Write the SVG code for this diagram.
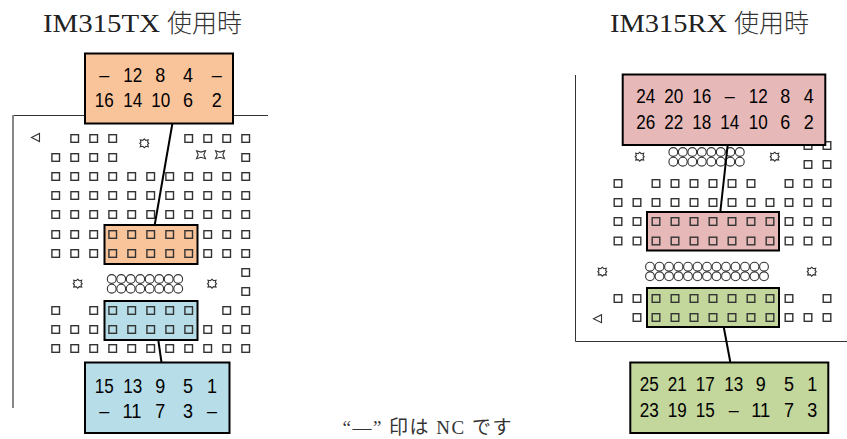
<svg xmlns="http://www.w3.org/2000/svg" width="847" height="439" viewBox="0 0 847 439">
<style>
text{font-family:"Liberation Sans","Noto Sans CJK JP",sans-serif;fill:#000}
.t{font-size:26px;font-family:"Liberation Serif","Noto Sans CJK JP",serif;fill:#222}
.j{font-size:25px;font-family:"Noto Sans CJK JP",sans-serif;font-weight:300;fill:#333}
.n{font-size:20px;text-anchor:middle}
.note{font-size:19px;font-family:"Liberation Serif","Noto Sans CJK JP",serif;fill:#333}
.b{stroke:#000;stroke-width:2}
.o{fill:#FAC49A}.c{fill:#B7DDE8}.p{fill:#E6B9B8}.g{fill:#C3D69B}
.l{stroke:#000;stroke-width:2;fill:none}
.f{stroke:#333;stroke-width:1;fill:none}
.s{fill:#fff;stroke:#333;stroke-width:1.4}
.sn{fill:none;stroke:#333;stroke-width:1.4}
.m{fill:#fff;stroke:#333;stroke-width:1.1}
</style>
<defs>
<rect id="q" x="-3.800" y="-3.800" width="7.600" height="7.600"/>
<circle id="h" r="4.400"/>
<polygon id="st" points="0,-4.500 1.500,-3 4,-3.400 3.300,-1.200 4.500,0 3.300,1.200 4,3.400 1.500,3 0,4.500 -1.500,3 -4,3.400 -3.300,1.200 -4.500,0 -3.300,-1.200 -4,-3.400 -1.500,-3"/>
<polygon id="xs" points="-4.500,-4 0,-2.600 4.500,-4 2.800,0 4.500,4 0,2.600 -4.500,4 -2.800,0"/>
<polygon id="tr" points="-4.500,0 3.500,-4 3.500,4"/>
</defs>
<g id="frames">
<path d="M268 115.500H13.500V408" class="f"/>
<path d="M13 115V408" stroke="#888" stroke-width="2" fill="none"/>
<path d="M575.500 75V341.500H847" class="f"/>
</g>
<g id="pads-left">
<g class="s">
<use href="#q" x="74.700" y="138.500"/><use href="#q" x="93.700" y="138.500"/><use href="#q" x="112.700" y="138.500"/><use href="#q" x="188.700" y="138.500"/><use href="#q" x="207.700" y="138.500"/><use href="#q" x="226.700" y="138.500"/><use href="#q" x="245.700" y="138.500"/>
<use href="#q" x="55.700" y="157.500"/><use href="#q" x="74.700" y="157.500"/><use href="#q" x="93.700" y="157.500"/><use href="#q" x="112.700" y="157.500"/><use href="#q" x="245.700" y="157.500"/>
<use href="#q" x="55.700" y="176.500"/><use href="#q" x="74.700" y="176.500"/><use href="#q" x="93.700" y="176.500"/><use href="#q" x="112.700" y="176.500"/><use href="#q" x="131.700" y="176.500"/><use href="#q" x="150.700" y="176.500"/><use href="#q" x="169.700" y="176.500"/><use href="#q" x="188.700" y="176.500"/><use href="#q" x="207.700" y="176.500"/><use href="#q" x="226.700" y="176.500"/><use href="#q" x="245.700" y="176.500"/>
<use href="#q" x="55.700" y="195.500"/><use href="#q" x="74.700" y="195.500"/><use href="#q" x="93.700" y="195.500"/><use href="#q" x="112.700" y="195.500"/><use href="#q" x="131.700" y="195.500"/><use href="#q" x="150.700" y="195.500"/><use href="#q" x="169.700" y="195.500"/><use href="#q" x="188.700" y="195.500"/><use href="#q" x="207.700" y="195.500"/><use href="#q" x="226.700" y="195.500"/><use href="#q" x="245.700" y="195.500"/>
<use href="#q" x="55.700" y="214.500"/><use href="#q" x="74.700" y="214.500"/><use href="#q" x="93.700" y="214.500"/><use href="#q" x="112.700" y="214.500"/><use href="#q" x="131.700" y="214.500"/><use href="#q" x="150.700" y="214.500"/><use href="#q" x="169.700" y="214.500"/><use href="#q" x="188.700" y="214.500"/><use href="#q" x="207.700" y="214.500"/><use href="#q" x="226.700" y="214.500"/><use href="#q" x="245.700" y="214.500"/>
<use href="#q" x="55.700" y="234.500"/><use href="#q" x="74.700" y="234.500"/><use href="#q" x="93.700" y="234.500"/><use href="#q" x="207.700" y="234.500"/><use href="#q" x="226.700" y="234.500"/><use href="#q" x="245.700" y="234.500"/>
<use href="#q" x="55.700" y="253.500"/><use href="#q" x="74.700" y="253.500"/><use href="#q" x="93.700" y="253.500"/><use href="#q" x="207.700" y="253.500"/><use href="#q" x="226.700" y="253.500"/><use href="#q" x="245.700" y="253.500"/>
<use href="#q" x="245.700" y="272.500"/><use href="#q" x="245.700" y="291.500"/>
<use href="#q" x="55.700" y="310.500"/><use href="#q" x="93.700" y="310.500"/><use href="#q" x="226.700" y="310.500"/><use href="#q" x="245.700" y="310.500"/>
<use href="#q" x="55.700" y="329.500"/><use href="#q" x="74.700" y="329.500"/><use href="#q" x="93.700" y="329.500"/><use href="#q" x="207.700" y="329.500"/><use href="#q" x="226.700" y="329.500"/><use href="#q" x="245.700" y="329.500"/>
<use href="#q" x="55.700" y="348.500"/><use href="#q" x="74.700" y="348.500"/><use href="#q" x="93.700" y="348.500"/><use href="#q" x="112.700" y="348.500"/><use href="#q" x="131.700" y="348.500"/><use href="#q" x="150.700" y="348.500"/><use href="#q" x="169.700" y="348.500"/><use href="#q" x="188.700" y="348.500"/><use href="#q" x="207.700" y="348.500"/><use href="#q" x="226.700" y="348.500"/><use href="#q" x="245.700" y="348.500"/>
</g>
<g class="m">
<use href="#tr" x="36" y="137.500"/>
<use href="#st" x="144.300" y="143.300"/><use href="#st" x="77.700" y="283.700"/><use href="#st" x="212" y="283.700"/>
<use href="#xs" x="201" y="154.700"/><use href="#xs" x="220" y="154.700"/>
<use href="#h" x="111.700" y="279"/><use href="#h" x="121.200" y="279"/><use href="#h" x="130.700" y="279"/><use href="#h" x="140.200" y="279"/><use href="#h" x="149.700" y="279"/><use href="#h" x="159.200" y="279"/><use href="#h" x="168.700" y="279"/><use href="#h" x="178.200" y="279"/>
<use href="#h" x="111.700" y="288.700"/><use href="#h" x="121.200" y="288.700"/><use href="#h" x="130.700" y="288.700"/><use href="#h" x="140.200" y="288.700"/><use href="#h" x="149.700" y="288.700"/><use href="#h" x="159.200" y="288.700"/><use href="#h" x="168.700" y="288.700"/><use href="#h" x="178.200" y="288.700"/>
</g>
</g>
<g id="pads-right">
<g class="s">
<use href="#q" x="808" y="145.500"/><use href="#q" x="827" y="145.500"/><use href="#q" x="808" y="164.500"/><use href="#q" x="827" y="164.500"/>
<use href="#q" x="618" y="183.500"/><use href="#q" x="656" y="183.500"/><use href="#q" x="675" y="183.500"/><use href="#q" x="694" y="183.500"/><use href="#q" x="713" y="183.500"/><use href="#q" x="732" y="183.500"/><use href="#q" x="751" y="183.500"/><use href="#q" x="789" y="183.500"/><use href="#q" x="808" y="183.500"/><use href="#q" x="827" y="183.500"/>
<use href="#q" x="618" y="202.500"/><use href="#q" x="637" y="202.500"/><use href="#q" x="656" y="202.500"/><use href="#q" x="675" y="202.500"/><use href="#q" x="694" y="202.500"/><use href="#q" x="713" y="202.500"/><use href="#q" x="732" y="202.500"/><use href="#q" x="751" y="202.500"/><use href="#q" x="770" y="202.500"/><use href="#q" x="789" y="202.500"/><use href="#q" x="808" y="202.500"/><use href="#q" x="827" y="202.500"/>
<use href="#q" x="618" y="221.500"/><use href="#q" x="637" y="221.500"/><use href="#q" x="789" y="221.500"/><use href="#q" x="808" y="221.500"/><use href="#q" x="827" y="221.500"/>
<use href="#q" x="618" y="241"/><use href="#q" x="637" y="241"/><use href="#q" x="789" y="241"/><use href="#q" x="808" y="241"/><use href="#q" x="827" y="241"/>
<use href="#q" x="618" y="298.500"/><use href="#q" x="637" y="298.500"/><use href="#q" x="789" y="298.500"/><use href="#q" x="827" y="298.500"/>
<use href="#q" x="637" y="317.500"/><use href="#q" x="789" y="317.500"/><use href="#q" x="808" y="317.500"/><use href="#q" x="827" y="317.500"/>
</g>
<g class="m">
<use href="#tr" x="598" y="318.700"/>
<use href="#st" x="602.300" y="271.700"/><use href="#st" x="811.700" y="271.700"/><use href="#st" x="639.700" y="156.700"/><use href="#st" x="774.700" y="156.700"/>
<use href="#h" x="673.300" y="152"/><use href="#h" x="682.800" y="152"/><use href="#h" x="692.300" y="152"/><use href="#h" x="701.800" y="152"/><use href="#h" x="711.300" y="152"/><use href="#h" x="720.800" y="152"/><use href="#h" x="730.300" y="152"/><use href="#h" x="739.800" y="152"/>
<use href="#h" x="673.300" y="161.700"/><use href="#h" x="682.800" y="161.700"/><use href="#h" x="692.300" y="161.700"/><use href="#h" x="701.800" y="161.700"/><use href="#h" x="711.300" y="161.700"/><use href="#h" x="720.800" y="161.700"/><use href="#h" x="730.300" y="161.700"/><use href="#h" x="739.800" y="161.700"/>
<use href="#h" x="650" y="266.700"/><use href="#h" x="659.500" y="266.700"/><use href="#h" x="669" y="266.700"/><use href="#h" x="678.500" y="266.700"/><use href="#h" x="688" y="266.700"/><use href="#h" x="697.500" y="266.700"/><use href="#h" x="707" y="266.700"/><use href="#h" x="716.500" y="266.700"/><use href="#h" x="726" y="266.700"/><use href="#h" x="735.500" y="266.700"/><use href="#h" x="745" y="266.700"/><use href="#h" x="754.500" y="266.700"/><use href="#h" x="764" y="266.700"/>
<use href="#h" x="650" y="276.300"/><use href="#h" x="659.500" y="276.300"/><use href="#h" x="669" y="276.300"/><use href="#h" x="678.500" y="276.300"/><use href="#h" x="688" y="276.300"/><use href="#h" x="697.500" y="276.300"/><use href="#h" x="707" y="276.300"/><use href="#h" x="716.500" y="276.300"/><use href="#h" x="726" y="276.300"/><use href="#h" x="735.500" y="276.300"/><use href="#h" x="745" y="276.300"/><use href="#h" x="754.500" y="276.300"/><use href="#h" x="764" y="276.300"/>
</g>
</g>
<g id="header-tx-mid"><rect class="b o" x="104.500" y="225" width="93" height="39"/>
<g class="sn"><use href="#q" x="112.700" y="234.500"/><use href="#q" x="131.700" y="234.500"/><use href="#q" x="150.700" y="234.500"/><use href="#q" x="169.700" y="234.500"/><use href="#q" x="188.700" y="234.500"/><use href="#q" x="112.700" y="253.500"/><use href="#q" x="131.700" y="253.500"/><use href="#q" x="150.700" y="253.500"/><use href="#q" x="169.700" y="253.500"/><use href="#q" x="188.700" y="253.500"/></g></g>
<g id="header-tx-low"><rect class="b c" x="104.500" y="301" width="93" height="39"/>
<g class="sn"><use href="#q" x="112.700" y="310.500"/><use href="#q" x="131.700" y="310.500"/><use href="#q" x="150.700" y="310.500"/><use href="#q" x="169.700" y="310.500"/><use href="#q" x="188.700" y="310.500"/><use href="#q" x="112.700" y="329.500"/><use href="#q" x="131.700" y="329.500"/><use href="#q" x="150.700" y="329.500"/><use href="#q" x="169.700" y="329.500"/><use href="#q" x="188.700" y="329.500"/></g></g>
<g id="header-rx-mid"><rect class="b p" x="647" y="212" width="132" height="38.500"/>
<g class="sn"><use href="#q" x="656" y="221.500"/><use href="#q" x="675" y="221.500"/><use href="#q" x="694" y="221.500"/><use href="#q" x="713" y="221.500"/><use href="#q" x="732" y="221.500"/><use href="#q" x="751" y="221.500"/><use href="#q" x="770" y="221.500"/><use href="#q" x="656" y="241"/><use href="#q" x="675" y="241"/><use href="#q" x="694" y="241"/><use href="#q" x="713" y="241"/><use href="#q" x="732" y="241"/><use href="#q" x="751" y="241"/><use href="#q" x="770" y="241"/></g></g>
<g id="header-rx-low"><rect class="b g" x="647" y="288" width="132" height="39"/>
<g class="sn"><use href="#q" x="656" y="298.500"/><use href="#q" x="675" y="298.500"/><use href="#q" x="694" y="298.500"/><use href="#q" x="713" y="298.500"/><use href="#q" x="732" y="298.500"/><use href="#q" x="751" y="298.500"/><use href="#q" x="770" y="298.500"/><use href="#q" x="656" y="317.500"/><use href="#q" x="675" y="317.500"/><use href="#q" x="694" y="317.500"/><use href="#q" x="713" y="317.500"/><use href="#q" x="732" y="317.500"/><use href="#q" x="751" y="317.500"/><use href="#q" x="770" y="317.500"/></g></g>
<g id="connectors">
<path class="l" d="M172.300 124L154.700 225"/>
<path class="l" d="M158.300 340L162 366"/>
<path class="l" d="M727.700 145L720.300 212"/>
<path class="l" d="M723.700 327L730.300 362"/>
</g>
<g id="box-tx-top"><rect class="b o" x="85" y="53.500" width="148" height="70"/>
<text class="n" x="104.300" y="81.700" textLength="10" lengthAdjust="spacingAndGlyphs">–</text><text class="n" x="132.700" y="81.700" textLength="19" lengthAdjust="spacingAndGlyphs">12</text><text class="n" x="160.300" y="81.700" textLength="10" lengthAdjust="spacingAndGlyphs">8</text><text class="n" x="188" y="81.700" textLength="10" lengthAdjust="spacingAndGlyphs">4</text><text class="n" x="216.700" y="81.700" textLength="10" lengthAdjust="spacingAndGlyphs">–</text>
<text class="n" x="104.300" y="107" textLength="19" lengthAdjust="spacingAndGlyphs">16</text><text class="n" x="132.700" y="107" textLength="19" lengthAdjust="spacingAndGlyphs">14</text><text class="n" x="160.700" y="107" textLength="19" lengthAdjust="spacingAndGlyphs">10</text><text class="n" x="188" y="107" textLength="10" lengthAdjust="spacingAndGlyphs">6</text><text class="n" x="216.700" y="107" textLength="10" lengthAdjust="spacingAndGlyphs">2</text></g>
<g id="box-tx-bottom"><rect class="b c" x="85" y="362.500" width="144.500" height="70.500"/>
<text class="n" x="104.300" y="392.700" textLength="19" lengthAdjust="spacingAndGlyphs">15</text><text class="n" x="132.700" y="392.700" textLength="19" lengthAdjust="spacingAndGlyphs">13</text><text class="n" x="160.300" y="392.700" textLength="10" lengthAdjust="spacingAndGlyphs">9</text><text class="n" x="188" y="392.700" textLength="10" lengthAdjust="spacingAndGlyphs">5</text><text class="n" x="212" y="392.700" textLength="10" lengthAdjust="spacingAndGlyphs">1</text>
<text class="n" x="104.300" y="417.700" textLength="10" lengthAdjust="spacingAndGlyphs">–</text><text class="n" x="132" y="417.700" textLength="19" lengthAdjust="spacingAndGlyphs">11</text><text class="n" x="160.300" y="417.700" textLength="10" lengthAdjust="spacingAndGlyphs">7</text><text class="n" x="188" y="417.700" textLength="10" lengthAdjust="spacingAndGlyphs">3</text><text class="n" x="212" y="417.700" textLength="10" lengthAdjust="spacingAndGlyphs">–</text></g>
<g id="box-rx-top"><rect class="b p" x="622.700" y="74.500" width="202.600" height="70.500"/>
<text class="n" x="645.700" y="102.700" textLength="19" lengthAdjust="spacingAndGlyphs">24</text><text class="n" x="673.700" y="102.700" textLength="19" lengthAdjust="spacingAndGlyphs">20</text><text class="n" x="701.700" y="102.700" textLength="19" lengthAdjust="spacingAndGlyphs">16</text><text class="n" x="729.700" y="102.700" textLength="10" lengthAdjust="spacingAndGlyphs">–</text><text class="n" x="758.300" y="102.700" textLength="19" lengthAdjust="spacingAndGlyphs">12</text><text class="n" x="785.300" y="102.700" textLength="10" lengthAdjust="spacingAndGlyphs">8</text><text class="n" x="808.700" y="102.700" textLength="10" lengthAdjust="spacingAndGlyphs">4</text>
<text class="n" x="645.700" y="129" textLength="19" lengthAdjust="spacingAndGlyphs">26</text><text class="n" x="673.700" y="129" textLength="19" lengthAdjust="spacingAndGlyphs">22</text><text class="n" x="701.700" y="129" textLength="19" lengthAdjust="spacingAndGlyphs">18</text><text class="n" x="729.700" y="129" textLength="19" lengthAdjust="spacingAndGlyphs">14</text><text class="n" x="758.300" y="129" textLength="19" lengthAdjust="spacingAndGlyphs">10</text><text class="n" x="785.300" y="129" textLength="10" lengthAdjust="spacingAndGlyphs">6</text><text class="n" x="808.700" y="129" textLength="10" lengthAdjust="spacingAndGlyphs">2</text></g>
<g id="box-rx-bottom"><rect class="b g" x="630.300" y="362.500" width="198" height="70.500"/>
<text class="n" x="649.300" y="391.300" textLength="19" lengthAdjust="spacingAndGlyphs">25</text><text class="n" x="677.300" y="391.300" textLength="19" lengthAdjust="spacingAndGlyphs">21</text><text class="n" x="705.300" y="391.300" textLength="19" lengthAdjust="spacingAndGlyphs">17</text><text class="n" x="733.700" y="391.300" textLength="19" lengthAdjust="spacingAndGlyphs">13</text><text class="n" x="760.700" y="391.300" textLength="10" lengthAdjust="spacingAndGlyphs">9</text><text class="n" x="789" y="391.300" textLength="10" lengthAdjust="spacingAndGlyphs">5</text><text class="n" x="812.300" y="391.300" textLength="10" lengthAdjust="spacingAndGlyphs">1</text>
<text class="n" x="649.300" y="416.700" textLength="19" lengthAdjust="spacingAndGlyphs">23</text><text class="n" x="677.300" y="416.700" textLength="19" lengthAdjust="spacingAndGlyphs">19</text><text class="n" x="705.300" y="416.700" textLength="19" lengthAdjust="spacingAndGlyphs">15</text><text class="n" x="733.700" y="416.700" textLength="10" lengthAdjust="spacingAndGlyphs">–</text><text class="n" x="760.700" y="416.700" textLength="19" lengthAdjust="spacingAndGlyphs">11</text><text class="n" x="789" y="416.700" textLength="10" lengthAdjust="spacingAndGlyphs">7</text><text class="n" x="812.300" y="416.700" textLength="10" lengthAdjust="spacingAndGlyphs">3</text></g>
<g id="titles">
<text class="t" x="43" y="32" textLength="117" lengthAdjust="spacingAndGlyphs">IM315TX</text><text class="j" x="167" y="32">使用時</text>
<text class="t" x="610" y="32" textLength="117" lengthAdjust="spacingAndGlyphs">IM315RX</text><text class="j" x="734" y="32">使用時</text>
<text class="note" x="342.500" y="433.500" textLength="169" lengthAdjust="spacing">“—” 印は NC です</text>
</g>
</svg>
